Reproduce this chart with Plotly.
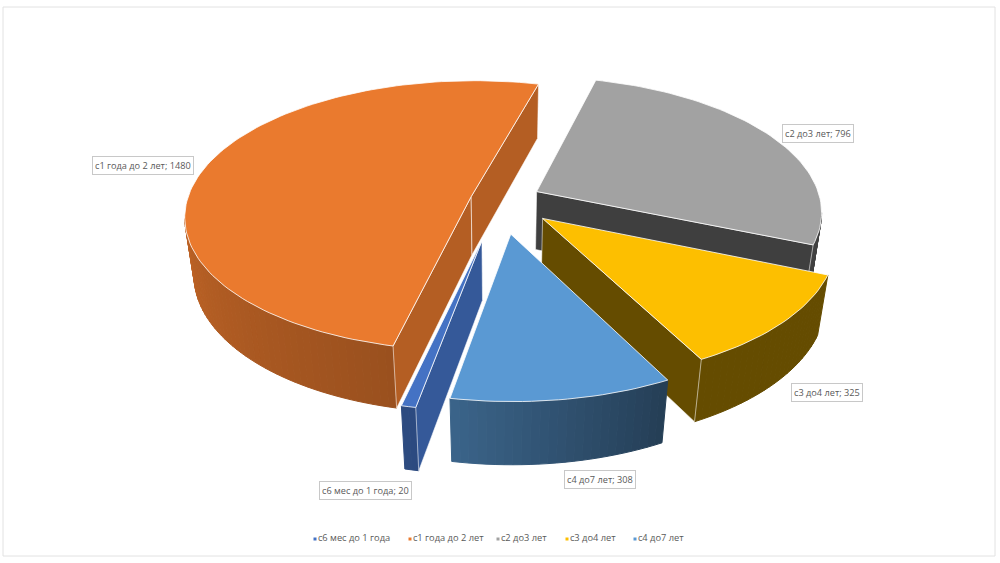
import numpy as np
import plotly.graph_objects as go

# chart data
CATEGORIES = ["с6 мес до 1 года", "с1 года до 2 лет", "с2 до3 лет", "с3 до4 лет", "с4 до7 лет"]
VALUES = [20, 1480, 796, 325, 308]
COLORS = ["#4472c4", "#ea7a2e", "#a2a2a2", "#fdbf00", "#5a99d3"]
PULLS = [0.30, 0.105, 0.145, 0.20, 0.25]
SIDE_SHADES = [0.78, 0.77, 0.39, 0.40, 0.40]

LABEL_X = [365, 143, 818, 827, 600]
LABEL_Y = [490, 165, 133, 392, 479]
LEGEND_X = [315, 410, 498, 567, 635]
LEGEND_Y = 539

# pie projection settings (pixels)
START_ANGLE = -10.5
CX, CY = 500, 200
SCALE_X, SCALE_Y = 284, 133.2
DEPTH = 60
PERSP = 0.141
PERSP_Z = 0.03


def project(gx, gy, z=0.0):
    """Ground coordinates of the pie -> screen pixels"""
    w = 1 - PERSP * gy + PERSP_Z * z
    return CX + SCALE_X * gx / w, CY + (SCALE_Y * gy + DEPTH * z) / w


def shade(color, f):
    r, g, b = [int(color[i:i + 2], 16) for i in (1, 3, 5)]
    return f"rgb({r * f:.0f},{g * f:.0f},{b * f:.0f})"


def wall_shade(angle):
    # wall gets darker towards the right of the picture
    wrapped = (angle + 180) % 360 - 180
    return np.interp(wrapped, [-100, -10, 28, 180], [0.85, 0.65, 0.40, 0.40])


def faces_camera(gx, gy, nx, ny):
    return (0 - gx) * nx + (1 / PERSP - gy) * ny > 0


def add_poly(fig, pts, fill, line, width=1):
    xs = [p[0] for p in pts] + [pts[0][0]]
    ys = [p[1] for p in pts] + [pts[0][1]]
    fig.add_trace(go.Scatter(x=xs, y=ys, mode="lines", fill="toself", fillcolor=fill,
                             line=dict(color=line, width=width), hoverinfo="skip", showlegend=False))


def add_radial_wall(fig, ox, oy, angle, normal_angle, color, f):
    nx, ny = np.sin(np.radians(normal_angle)), np.cos(np.radians(normal_angle))
    if not faces_camera(ox, oy, nx, ny):
        return
    ex, ey = ox + np.sin(np.radians(angle)), oy + np.cos(np.radians(angle))
    pts = [project(ox, oy), project(ex, ey), project(ex, ey, 1), project(ox, oy, 1)]
    add_poly(fig, pts, shade(color, f), "rgba(255,255,255,0.55)")


def add_slice(fig, s):
    ox, oy = s["ox"], s["oy"]
    angles = np.linspace(s["a0"], s["a1"], max(3, int((s["a0"] - s["a1"]) / 1.5) + 1))

    # outer wall, split in strips for the gradient
    for a, b in zip(angles[:-1], angles[1:]):
        m = np.radians((a + b) / 2)
        gx, gy = ox + np.sin(m), oy + np.cos(m)
        if not faces_camera(gx, gy, np.sin(m), np.cos(m)):
            continue
        p0 = (ox + np.sin(np.radians(a)), oy + np.cos(np.radians(a)))
        p1 = (ox + np.sin(np.radians(b)), oy + np.cos(np.radians(b)))
        col = shade(s["color"], wall_shade((a + b) / 2))
        add_poly(fig, [project(*p0), project(*p1), project(*p1, 1), project(*p0, 1)], col, col)

    # flat sides
    add_radial_wall(fig, ox, oy, s["a0"], s["a0"] + 90, s["color"], s["side"])
    add_radial_wall(fig, ox, oy, s["a1"], s["a1"] - 90, s["color"], s["side"])

    # top face
    top = [project(ox, oy)]
    top += [project(ox + np.sin(np.radians(a)), oy + np.cos(np.radians(a))) for a in angles]
    add_poly(fig, top, s["color"], "rgba(255,255,255,0.8)")


fig = go.Figure()

# build the slices clockwise from the start angle
slices = []
total = sum(VALUES)
angle = START_ANGLE
for val, col, pull, side in zip(VALUES, COLORS, PULLS, SIDE_SHADES):
    sweep = 360 * val / total
    mid = np.radians(angle - sweep / 2)
    slices.append(dict(a0=angle, a1=angle - sweep, ox=pull * np.sin(mid), oy=pull * np.cos(mid),
                       color=col, side=side))
    angle -= sweep

# back slices first
for s in sorted(slices, key=lambda item: item["oy"]):
    add_slice(fig, s)

# legend row
fig.add_trace(go.Scatter(x=LEGEND_X, y=[LEGEND_Y] * len(LEGEND_X), mode="markers+text",
                         marker=dict(symbol="square", size=3, color=COLORS),
                         text=CATEGORIES, textposition="middle right",
                         textfont=dict(family="Open Sans", size=9.3, color="#595959"),
                         hoverinfo="skip", showlegend=False))

# data labels
for cat, val, lx, ly in zip(CATEGORIES, VALUES, LABEL_X, LABEL_Y):
    fig.add_annotation(x=lx, y=ly, text=f"{cat}; {val}", showarrow=False,
                       font=dict(family="Open Sans", size=9.2, color="#595959"),
                       bgcolor="white", bordercolor="#c8c8c8", borderwidth=1, borderpad=2)

fig.update_layout(width=1000, height=563, margin=dict(l=0, r=0, t=0, b=0),
                  paper_bgcolor="white", plot_bgcolor="white", showlegend=False,
                  shapes=[dict(type="rect", x0=3, y0=7, x1=995, y1=556,
                               line=dict(color="#e2e2e2", width=1), layer="below")])
fig.update_xaxes(range=[0, 1000], visible=False, fixedrange=True)
fig.update_yaxes(range=[563, 0], visible=False, fixedrange=True)

fig.write_html("out.html", config=dict(displayModeBar=False),
               post_script="document.body.style.margin='0';")
